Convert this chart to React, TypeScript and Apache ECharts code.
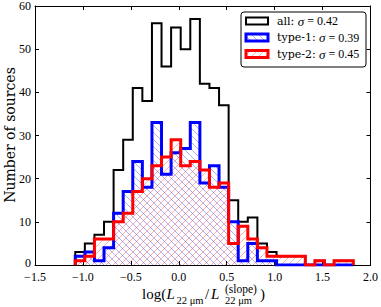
import React, { useEffect, useRef } from 'react';
import * as echarts from 'echarts';

const binEdges = [-1.08, -0.98, -0.88, -0.78, -0.68, -0.58, -0.48, -0.38, -0.28, -0.18, -0.08, 0.02, 0.12, 0.22, 0.32, 0.42, 0.52, 0.62, 0.72, 0.82, 0.92, 1.02, 1.12, 1.22, 1.32, 1.42, 1.52, 1.62, 1.72, 1.82];
const allCounts = [3, 5, 7, 10, 22, 29, 41, 38, 56, 46, 55, 50, 57, 42, 41, 37, 15, 10, 11, 5, 3, 2, 2, 2, 0, 1, 0, 1, 1];
const type1Counts = [2, 3, 1, 4, 12, 17, 24, 18, 33, 21, 26, 27, 33, 19, 23, 18, 10, 1, 5, 1, 1, 0, 0, 0, 0, 0, 0, 0, 0];
const type2Counts = [1, 2, 6, 6, 10, 12, 17, 20, 23, 25, 29, 23, 24, 22, 18, 19, 5, 9, 6, 4, 2, 2, 2, 2, 0, 1, 0, 1, 1];
const legendNames = ['all', 'type-1', 'type-2'];
const legendSigmas = ['0.42', '0.39', '0.45'];
const legendColors = ['#000000', '#0000ff', '#ff0000'];
const xMin = -1.5, xMax = 2.0, xStep = 0.5;
const yMin = 0, yMax = 60, yStep = 10;

const SERIF = 'Liberation Serif, Times New Roman, serif';
const DVS = 'DejaVu Serif, serif';

function stepPoints(counts: number[]) {
  const pts: number[][] = [[binEdges[0], 0]];
  counts.forEach((c, i) => {
    pts.push([binEdges[i], c]);
    pts.push([binEdges[i + 1], c]);
  });
  pts.push([binEdges[counts.length], 0]);
  return pts;
}

function hatchLines(L: number, R: number, T: number, B: number, dir: string, s: number, color: string) {
  const children: any[] = [];
  if (dir === 'back') {
    const dmin = L - B, dmax = R - T;
    for (let m = Math.ceil(dmin / s); m * s <= dmax; m++) {
      const d = m * s;
      const xs = Math.max(L, T + d), xe = Math.min(R, B + d);
      if (xe > xs) children.push({ type: 'line', shape: { x1: xs, y1: xs - d, x2: xe, y2: xe - d }, style: { stroke: color, lineWidth: 1 }, silent: true });
    }
  } else {
    const dmin = L + T, dmax = R + B;
    for (let m = Math.ceil(dmin / s); m * s <= dmax; m++) {
      const d = m * s;
      const xs = Math.max(L, d - B), xe = Math.min(R, d - T);
      if (xe > xs) children.push({ type: 'line', shape: { x1: xs, y1: d - xs, x2: xe, y2: d - xe }, style: { stroke: color, lineWidth: 1 }, silent: true });
    }
  }
  return children;
}

function hatchSeries(counts: number[], dir: string, color: string) {
  return {
    type: 'custom',
    xAxisIndex: 0,
    yAxisIndex: 0,
    data: counts.map((c, i) => [binEdges[i], binEdges[i + 1], c]),
    encode: { x: [0, 1], y: 2 },
    z: 1,
    silent: true,
    renderItem: (params: any, api: any) => {
      const p0 = api.coord([api.value(0), 0]);
      const p1 = api.coord([api.value(1), api.value(2)]);
      const L = p0[0], R = p1[0], B = p0[1], T = p1[1];
      if (B - T < 0.5) return null;
      return { type: 'group', children: hatchLines(L, R, T, B, dir, 7, color) };
    },
  };
}

function lineSeries(counts: number[], color: string, width: number, z: number) {
  return {
    type: 'line',
    xAxisIndex: 0,
    yAxisIndex: 0,
    data: stepPoints(counts),
    symbol: 'none',
    lineStyle: { color, width, join: 'miter' },
    z,
    silent: true,
  };
}

const hatchColors = ['', 'rgba(0,0,255,0.32)', 'rgba(255,0,0,0.32)'];

function buildLegend() {
  const els: any[] = [];
  els.push({ type: 'rect', shape: { x: 241, y: 12, width: 125, height: 55, r: 3 }, style: { fill: '#fff', stroke: '#000', lineWidth: 1 }, z: 100 });
  const rows = [21, 37.5, 54];
  legendNames.forEach((name, i) => {
    const cy = rows[i];
    const hx = 246, hw = 22, hh = 7;
    if (i > 0) {
      hatchLines(hx, hx + hw, cy - hh / 2, cy + hh / 2, i === 1 ? 'back' : 'fwd', 7, hatchColors[i]).forEach((l) => els.push({ ...l, z: 101 }));
    }
    els.push({ type: 'rect', shape: { x: hx, y: cy - hh / 2, width: hw, height: hh }, style: { fill: 'none', stroke: legendColors[i], lineWidth: i === 0 ? 2 : 3 }, z: 102 });
    els.push({
      type: 'text', x: 277, y: cy, z: 102,
      style: {
        text: `{a|${name}: }{s|σ}{b| = ${legendSigmas[i]}}`,
        verticalAlign: 'middle',
        rich: {
          a: { fontFamily: DVS, fontSize: 11, fill: '#000' },
          s: { fontFamily: SERIF, fontStyle: 'italic', fontSize: 13, fill: '#000' },
          b: { fontFamily: SERIF, fontSize: 12, fill: '#000' },
        },
      },
    });
  });
  return els;
}

function buildTitles() {
  const els: any[] = [];
  const base = 294;
  const t = (text: string, x: number, y: number, size: number, italic = false) => ({
    type: 'text', x, y, z: 50,
    style: { text, fontFamily: SERIF, fontSize: size, fontStyle: italic ? 'italic' : 'normal', fill: '#000', verticalAlign: 'middle', align: 'left', lineHeight: size },
  });
  els.push(t('log(', 142, base, 15));
  els.push(t('L', 166.5, base, 15, true));
  els.push(t('22 μm', 176.5, base + 6, 10.5));
  els.push(t('/', 205, base, 15));
  els.push(t('L', 211, base, 15, true));
  els.push(t('(slope)', 225, base - 5.5, 11.5));
  els.push(t('22 μm', 225, base + 6.5, 10.5));
  els.push(t(')', 260, base, 15));
  els.push({
    type: 'text', x: 10, y: 135, rotation: Math.PI / 2, z: 50,
    style: { text: 'Number of sources', fontFamily: DVS, fontSize: 14, fill: '#000', align: 'center', verticalAlign: 'middle' },
  });
  return els;
}

const fmtX = (v: number) => (v < 0 ? '\u2212' : '') + Math.abs(v).toFixed(1);
const fmtY = (v: number) => (v === 0 ? '{z|0}' : String(v));

export default function App() {
  const ref = useRef<HTMLDivElement>(null);
  useEffect(() => {
    if (!ref.current) return;
    const chart = echarts.init(ref.current, undefined, { renderer: 'svg' });
    const axisCommon = {
      axisLine: { show: true, onZero: false, lineStyle: { color: '#000', width: 1 } },
      axisTick: { show: true, inside: true, length: 4, lineStyle: { color: '#000', width: 1 } },
      splitLine: { show: false },
    };
    const option: any = {
      animation: false,
      grid: { left: 35, right: 9, top: 5, bottom: 42, containLabel: false },
      xAxis: [
        {
          type: 'value', min: xMin, max: xMax, interval: xStep, position: 'bottom', ...axisCommon,
          axisLabel: { formatter: fmtX, color: '#000', fontFamily: SERIF, fontSize: 12, margin: 6, lineHeight: 12 },
        },
        {
          type: 'value', min: xMin, max: xMax, interval: xStep, position: 'top', ...axisCommon,
          axisLabel: { show: false },
        },
      ],
      yAxis: [
        {
          type: 'value', min: yMin, max: yMax, interval: yStep, position: 'left', ...axisCommon,
          axisLabel: {
            formatter: fmtY, color: '#000', fontFamily: SERIF, fontSize: 12, margin: 4, lineHeight: 10,
            rich: { z: { fontFamily: SERIF, fontSize: 12, color: '#000', lineHeight: 10, padding: [0, 0, 4, 0] } },
          },
        },
        {
          type: 'value', min: yMin, max: yMax, interval: yStep, position: 'right', ...axisCommon,
          axisLabel: { show: false },
        },
      ],
      series: [
        hatchSeries(type1Counts, 'back', hatchColors[1]),
        hatchSeries(type2Counts, 'fwd', hatchColors[2]),
        lineSeries(allCounts, '#000', 2, 3),
        lineSeries(type1Counts, '#0000ff', 3, 4),
        lineSeries(type2Counts, '#ff0000', 3, 5),
      ],
      graphic: [...buildLegend(), ...buildTitles()],
    };
    chart.setOption(option);
    return () => chart.dispose();
  }, []);
  return <div ref={ref} style={{ position: 'fixed', left: 0, top: 0, width: 381, height: 307, background: '#fff' }} />;
}
